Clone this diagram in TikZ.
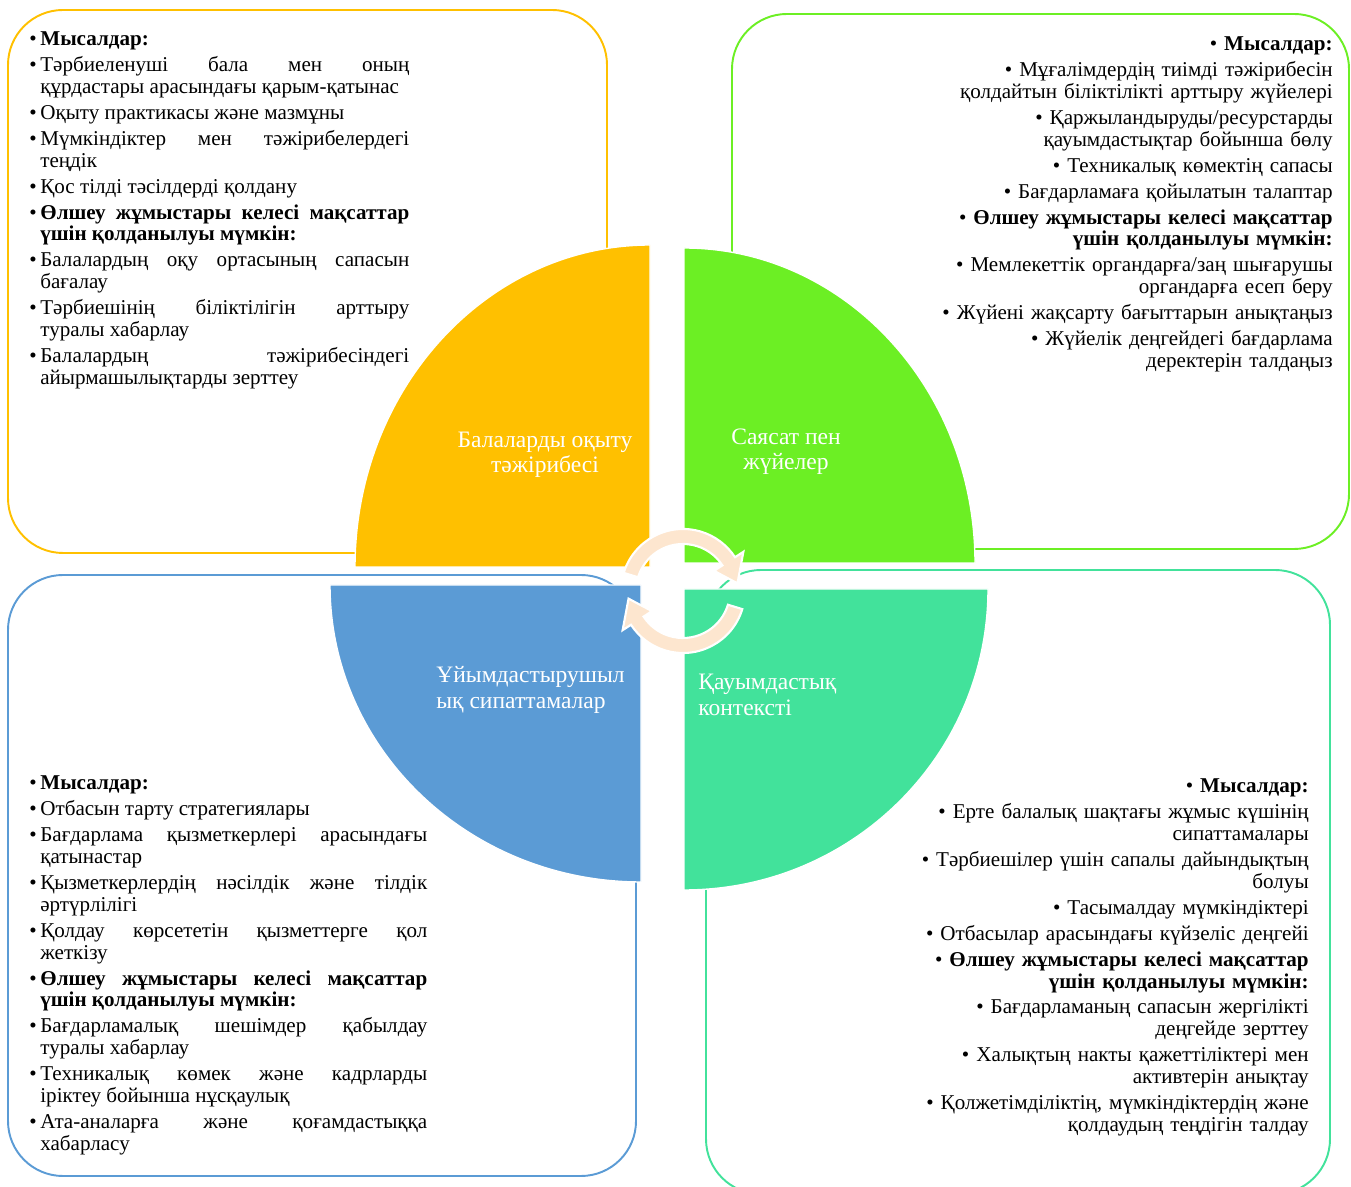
\documentclass[tikz,border=0pt]{standalone}
\usepackage{fontspec}
\setmainfont{Liberation Serif}
\usetikzlibrary{calc}
\definecolor{learnyellow}{RGB}{255,192,0}
\definecolor{policygreen}{RGB}{108,239,36}
\definecolor{orgblue}{RGB}{91,155,213}
\definecolor{commteal}{RGB}{66,226,155}
\definecolor{cyclepeach}{RGB}{253,230,207}

\newcommand{\bul}[1]{\par\hangindent=0.22cm\hangafter=1\noindent\makebox[0.22cm][l]{\textbullet}#1}
\newcommand{\rbul}[1]{\par\textbullet~#1}

\begin{document}
\begin{tikzpicture}[
    x=0.02cm, y=0.02cm,
    panel/.style={rounded corners=1.1cm, line width=1.1pt},
    sector/.style={draw=white, line width=0.8pt},
    sectorlabel/.style={text=white, inner sep=0pt, font=\fontsize{13.4}{14.4}\selectfont},
    notes/.style={inner sep=0pt, font=\fontsize{12}{12.5}\selectfont,
        execute at begin node={\setlength{\parskip}{0.08cm}\hyphenpenalty=10000\exhyphenpenalty=10000\emergencystretch=1em}},
    leftnotes/.style={notes, align=justify, anchor=north west},
    rightnotes/.style={notes, align=right, anchor=north east},
    cyclearrow/.style={fill=cyclepeach, draw=white, line width=1.2pt}
]
\useasboundingbox (0,0) rectangle (1351,1186);

% outer panels
\draw[panel, learnyellow] (8,633) rectangle (607,1176);
\draw[panel, policygreen] (732,637) rectangle (1349,1172);
\draw[panel, orgblue] (8,10) rectangle (636,611);
\draw[panel, commteal] (706,-8) rectangle (1330,616);

% quarter sectors
\filldraw[sector, fill=learnyellow] (650,619) -- (650,941) arc[start angle=90, end angle=180, x radius=295, y radius=322] -- cycle;
\filldraw[sector, fill=policygreen] (684,623) -- (975,623) arc[start angle=0, end angle=90, x radius=291, y radius=315] -- cycle;
\filldraw[sector, fill=orgblue] (641,601) -- (330,601) arc[start angle=180, end angle=270, x radius=311, y radius=297] -- cycle;
\filldraw[sector, fill=commteal] (684,597) -- (684,296) arc[start angle=270, end angle=360, x radius=304, y radius=301] -- cycle;

\node[sectorlabel, align=center] (learnlbl) at (545,731) {Балаларды оқыту\\тәжірибесі};
\node[sectorlabel, align=center] (policylbl) at (786,734) {Саясат пен\\жүйелер};
\node[sectorlabel, align=left, anchor=west] (orglbl) at (436,496) {Ұйымдастырушыл\\ық сипаттамалар};
\node[sectorlabel, align=left, anchor=west] (commlbl) at (698,491) {Қауымдастық\\контексті};

% cycle in the middle
\coordinate (hub) at (683,595);
\filldraw[cyclearrow] ($(hub)+(163:62)$) arc[start angle=163, end angle=33, radius=62]
    -- ($(hub)+(33:72)$) -- ($(hub)+(8:55)$) -- ($(hub)+(33:37)$) -- ($(hub)+(33:47)$)
    arc[start angle=33, end angle=163, radius=47] -- cycle;
\filldraw[cyclearrow] ($(hub)+(343:62)$) arc[start angle=343, end angle=213, radius=62]
    -- ($(hub)+(213:72)$) -- ($(hub)+(188:55)$) -- ($(hub)+(213:37)$) -- ($(hub)+(213:47)$)
    arc[start angle=213, end angle=343, radius=47] -- cycle;

% lists
\node[leftnotes, text width=7.6cm] (learnnotes) at (29,1167) {
\bul{\textbf{Мысалдар:}}
\bul{Тәрбиеленуші бала мен оның\linebreak құрдастары арасындағы қарым-қатынас}
\bul{Оқыту практикасы және мазмұны}
\bul{Мүмкіндіктер мен тәжірибелердегі\linebreak теңдік}
\bul{Қос тілді тәсілдерді қолдану}
\bul{\textbf{Өлшеу жұмыстары келесі мақсаттар\linebreak үшін қолданылуы мүмкін:}}
\bul{Балалардың оқу ортасының сапасын\linebreak бағалау}
\bul{Тәрбиешінің біліктілігін арттыру\linebreak туралы хабарлау}
\bul{Балалардың тәжірибесіндегі\linebreak айырмашылықтарды зерттеу}\par
};
\node[rightnotes, text width=8cm] (policynotes) at (1333,1162) {
\rbul{\textbf{Мысалдар:}}
\rbul{Мұғалімдердің тиімді тәжірибесін\\қолдайтын біліктілікті арттыру жүйелері}
\rbul{Қаржыландыруды/ресурстарды\\қауымдастықтар бойынша бөлу}
\rbul{Техникалық көмектің сапасы}
\rbul{Бағдарламаға қойылатын талаптар}
\rbul{\textbf{Өлшеу жұмыстары келесі мақсаттар\\үшін қолданылуы мүмкін:}}
\rbul{Мемлекеттік органдарға/заң шығарушы\\органдарға есеп беру}
\rbul{Жүйені жақсарту бағыттарын анықтаңыз}
\rbul{Жүйелік деңгейдегі бағдарлама\\деректерін талдаңыз}\par
};
\node[leftnotes, text width=7.96cm] (orgnotes) at (29,423) {
\bul{\textbf{Мысалдар:}}
\bul{Отбасын тарту стратегиялары}
\bul{Бағдарлама қызметкерлері арасындағы\linebreak қатынастар}
\bul{Қызметкерлердің нәсілдік және тілдік\linebreak әртүрлілігі}
\bul{Қолдау көрсететін қызметтерге қол\linebreak жеткізу}
\bul{\textbf{Өлшеу жұмыстары келесі мақсаттар\linebreak үшін қолданылуы мүмкін:}}
\bul{Бағдарламалық шешімдер қабылдау\linebreak туралы хабарлау}
\bul{Техникалық көмек және кадрларды\linebreak іріктеу бойынша нұсқаулық}
\bul{Ата-аналарға және қоғамдастыққа\linebreak хабарласу}\par
};
\node[rightnotes, text width=8cm] (commnotes) at (1309,420) {
\rbul{\textbf{Мысалдар:}}
\rbul{Ерте балалық шақтағы жұмыс күшінің\\сипаттамалары}
\rbul{Тәрбиешілер үшін сапалы дайындықтың\\болуы}
\rbul{Тасымалдау мүмкіндіктері}
\rbul{Отбасылар арасындағы күйзеліс деңгейі}
\rbul{\textbf{Өлшеу жұмыстары келесі мақсаттар\\үшін қолданылуы мүмкін:}}
\rbul{Бағдарламаның сапасын жергілікті\\деңгейде зерттеу}
\rbul{Халықтың накты қажеттіліктері мен\\активтерін анықтау}
\rbul{Қолжетімділіктің, мүмкіндіктердің және\\қолдаудың теңдігін талдау}\par
};
\end{tikzpicture}
\end{document}
